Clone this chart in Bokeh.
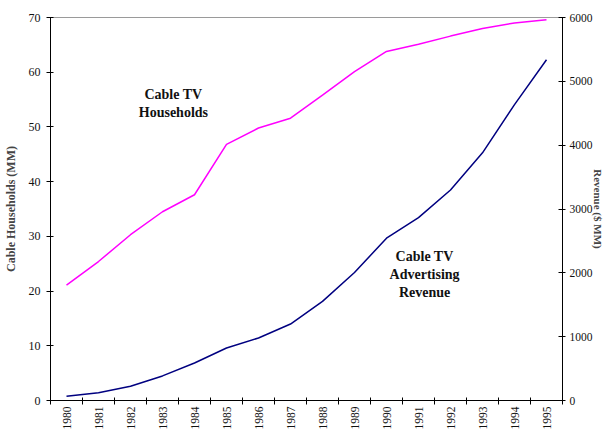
from math import pi

from bokeh.plotting import figure
from bokeh.models import Range1d, LinearAxis, FixedTicker, Label, ColumnDataSource
from bokeh.embed import file_html
from bokeh.resources import INLINE

# Cable TV in the US, 1980-1995
years = [1980, 1981, 1982, 1983, 1984, 1985, 1986, 1987,
         1988, 1989, 1990, 1991, 1992, 1993, 1994, 1995]
households_mm = [21.1, 25.4, 30.3, 34.5, 37.6, 46.8, 49.8, 51.6,
                 55.8, 60.1, 63.8, 65.1, 66.6, 68.0, 69.0, 69.6]
ad_revenue_mm = [67, 120, 223, 385, 588, 823, 979, 1198,
                 1552, 2005, 2542, 2864, 3297, 3880, 4636, 5339]

left_ticks = [0, 10, 20, 30, 40, 50, 60, 70]
right_ticks = [0, 1000, 2000, 3000, 4000, 5000, 6000]

SERIF = "Liberation Serif"
INK = "#111111"

src = ColumnDataSource(dict(year=years, hh=households_mm, rev=ad_revenue_mm))

p = figure(width=609, height=432, output_backend="svg", toolbar_location=None,
           x_range=Range1d(1979.5, 1995.5), y_range=Range1d(0, 70),
           min_border_left=50, min_border_right=47,
           min_border_top=17, min_border_bottom=31)
p.extra_y_ranges = {"rev": Range1d(0, 6000)}

p.xgrid.visible = False
p.ygrid.visible = False
p.outline_line_color = "#9a9a9a"
p.outline_line_width = 1
p.background_fill_color = "white"
p.border_fill_color = "white"

# Category axis: year names under each year, tick marks between the years
xa = p.xaxis[0]
xa.ticker = FixedTicker(ticks=years, minor_ticks=[y - 0.5 for y in years] + [1995.5])
xa.major_tick_in = 0
xa.major_tick_out = 0
xa.minor_tick_in = 3
xa.minor_tick_out = 4
xa.minor_tick_line_color = "black"
xa.axis_line_color = "black"
xa.major_label_orientation = pi / 2
xa.major_label_standoff = 2
xa.major_label_text_font = SERIF
xa.major_label_text_font_size = "11.5px"
xa.major_label_text_color = INK

ya = p.yaxis[0]
ya.ticker = FixedTicker(ticks=left_ticks)
ya.minor_tick_line_color = None
ya.major_tick_in = 3
ya.major_tick_out = 4
ya.major_label_standoff = 6
ya.major_label_text_font = SERIF
ya.major_label_text_font_size = "12px"
ya.major_label_text_color = INK
ya.axis_line_color = "black"
ya.axis_label = "Cable Households (MM)"
ya.axis_label_text_font = SERIF
ya.axis_label_text_font_style = "bold"
ya.axis_label_text_font_size = "12px"
ya.axis_label_standoff = 8

ra = LinearAxis(y_range_name="rev", ticker=FixedTicker(ticks=right_ticks))
ra.minor_tick_line_color = None
ra.major_tick_in = 4
ra.major_tick_out = 3
ra.major_label_standoff = 4
ra.major_label_text_font = SERIF
ra.major_label_text_font_size = "11.5px"
ra.major_label_text_color = INK
ra.axis_line_color = "black"
ra.axis_label = "Revenue ($ MM)"
ra.axis_label_standoff = -4
ra.axis_label_text_font = SERIF
ra.axis_label_text_font_style = "bold"
ra.axis_label_text_font_size = "11px"
p.add_layout(ra, "right")

p.line("year", "hh", source=src, line_color="#FF00FF", line_width=1.5)
p.line("year", "rev", source=src, y_range_name="rev", line_color="#000080", line_width=1.5)

for txt, x, y in [("Cable TV\nHouseholds", 1983.34, 54.2),
                  ("Cable TV\nAdvertising\nRevenue", 1991.19, 23.1)]:
    p.add_layout(Label(x=x, y=y, text=txt, text_align="center", text_baseline="middle",
                       text_font=SERIF, text_font_style="bold", text_font_size="14px",
                       text_line_height=1.2, text_color=INK))

open("out.html", "w").write(file_html(p, INLINE))
